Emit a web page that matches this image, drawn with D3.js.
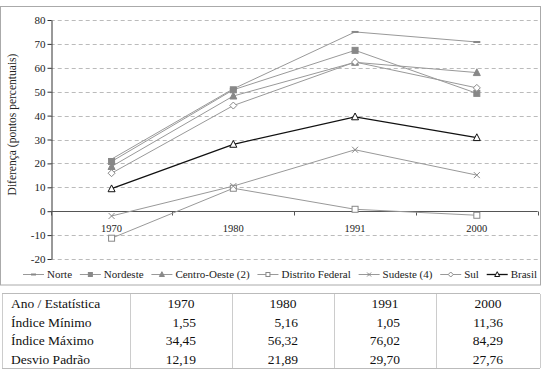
<!DOCTYPE html>
<html><head><meta charset="utf-8">
<script src="https://cdn.jsdelivr.net/npm/d3@7"></script>
<style>body{margin:0;background:#fff}svg{display:block}</style>
</head><body><div id="chart"></div>
<script>
const years = ["1970","1980","1991","2000"];
const norte = [21.8, 51.2, 75.0, 70.8];
const nordeste = [20.8, 50.8, 67.3, 49.3];
const centroOeste = [18.7, 48.2, 62.3, 58.0];
const distritoFederal = [-11.3, 9.6, 0.8, -1.7];
const sudeste = [-2.0, 10.5, 25.7, 15.1];
const sul = [15.9, 44.2, 62.4, 51.6];
const brasil = [9.4, 28.0, 39.5, 30.8];
const yTicks = [-20,-10,0,10,20,30,40,50,60,70,80];
const tableHeader = ["Ano / Estatística","1970","1980","1991","2000"];
const tableRowLabels = ["Índice Mínimo","Índice Máximo","Desvio Padrão"];
const indiceMinimo = ["1,55","5,16","1,05","11,36"];
const indiceMaximo = ["34,45","56,32","76,02","84,29"];
const desvioPadrao = ["12,19","21,89","29,70","27,76"];

const series = [
  {name:"Norte", values:norte, marker:"dash", color:"#999", mfill:"#888"},
  {name:"Nordeste", values:nordeste, marker:"square", color:"#999", mfill:"#888"},
  {name:"Centro-Oeste (2)", values:centroOeste, marker:"triangle", color:"#999", mfill:"#888"},
  {name:"Distrito Federal", values:distritoFederal, marker:"square-o", color:"#999", mfill:"#fff"},
  {name:"Sudeste (4)", values:sudeste, marker:"x", color:"#999", mfill:"none"},
  {name:"Sul", values:sul, marker:"diamond-o", color:"#999", mfill:"#fff"},
  {name:"Brasil", values:brasil, marker:"triangle-o", color:"#111", mfill:"#fff"}
];

(function(){
const FONT = "'Liberation Serif', 'Times New Roman', Tinos, serif";
const W=544, H=373;
const svg = d3.select("#chart").append("svg").attr("width",W).attr("height",H).attr("font-family",FONT);
const pLeft=50.7, pRight=537.7, pTop=20, pBottom=259;
const x = d3.scaleBand().domain(years).range([pLeft,pRight]);
const y = d3.scaleLinear().domain([-20,80]).range([pBottom,pTop]);

svg.append("rect").attr("x",0.5).attr("y",6.5).attr("width",540).attr("height",278.5)
  .attr("fill","none").attr("stroke","#aaa");

svg.append("g").selectAll("line").data(yTicks.filter(d=>d!==0)).join("line")
  .attr("x1",pLeft).attr("x2",pRight).attr("y1",d=>Math.round(y(d))+0.5).attr("y2",d=>Math.round(y(d))+0.5)
  .attr("stroke","#bbb").attr("stroke-dasharray","4,3");

const ya = svg.append("g").attr("transform",`translate(${Math.round(pLeft)+0.5},0)`)
  .call(d3.axisLeft(y).tickValues(yTicks).tickSize(4).tickSizeOuter(0).tickFormat(d=>String(d)));
ya.attr("font-family",FONT);
ya.select(".domain").attr("stroke","#333");
ya.selectAll(".tick line").attr("stroke","#333");
ya.selectAll(".tick text").attr("font-size","11px").attr("fill","#222").attr("x",-6).attr("font-family",FONT);

const zy = Math.round(y(0))+0.5;
svg.append("line").attr("x1",pLeft).attr("x2",pRight).attr("y1",zy).attr("y2",zy).attr("stroke","#555").attr("stroke-width",1.2);
const bounds = years.map(d=>x(d)).concat([pRight]);
svg.append("g").selectAll("line").data(bounds).join("line")
  .attr("x1",d=>Math.round(d)+0.5).attr("x2",d=>Math.round(d)+0.5).attr("y1",zy).attr("y2",zy+4).attr("stroke","#555");
svg.append("g").selectAll("text").data(years).join("text")
  .attr("x",d=>x(d)+x.bandwidth()/2).attr("y",zy+20).attr("text-anchor","middle").attr("font-family",FONT)
  .attr("font-size","10.5px").attr("fill","#222").text(d=>d);

svg.append("text").attr("transform",`translate(16,${(pTop+pBottom)/2-15}) rotate(-90)`)
  .attr("text-anchor","middle").attr("font-size","11.5px").attr("fill","#222").attr("font-family",FONT)
  .text("Diferença (pontos percentuais)");

function drawMarker(g, s, cx, cy, size){
  const r=size;
  if(s.marker==="dash"){
    g.append("line").attr("x1",cx-r-0.5).attr("x2",cx+r+0.5).attr("y1",cy).attr("y2",cy).attr("stroke",s.mfill).attr("stroke-width",2);
  } else if(s.marker==="square"){
    g.append("rect").attr("x",cx-r).attr("y",cy-r).attr("width",2*r).attr("height",2*r).attr("fill",s.mfill).attr("stroke",s.mfill);
  } else if(s.marker==="square-o"){
    g.append("rect").attr("x",cx-r).attr("y",cy-r).attr("width",2*r).attr("height",2*r).attr("fill","#fff").attr("stroke","#888");
  } else if(s.marker==="triangle"){
    g.append("path").attr("d",`M${cx},${cy-r-0.8}L${cx+r+0.5},${cy+r}L${cx-r-0.5},${cy+r}Z`).attr("fill",s.mfill).attr("stroke",s.mfill);
  } else if(s.marker==="triangle-o"){
    g.append("path").attr("d",`M${cx},${cy-r-0.8}L${cx+r+0.5},${cy+r}L${cx-r-0.5},${cy+r}Z`).attr("fill","#fff").attr("stroke","#111");
  } else if(s.marker==="diamond-o"){
    g.append("path").attr("d",`M${cx},${cy-r-0.5}L${cx+r+0.5},${cy}L${cx},${cy+r+0.5}L${cx-r-0.5},${cy}Z`).attr("fill","#fff").attr("stroke","#888");
  } else if(s.marker==="x"){
    g.append("path").attr("d",`M${cx-r},${cy-r}L${cx+r},${cy+r}M${cx-r},${cy+r}L${cx+r},${cy-r}`).attr("stroke","#888").attr("fill","none");
  }
}

const line = d3.line().x((d,i)=>x(years[i])+x.bandwidth()/2).y(d=>y(d));
const plot = svg.append("g");
series.forEach(s=>{
  plot.append("path").attr("d",line(s.values)).attr("fill","none").attr("stroke",s.color).attr("stroke-width",s.name==="Brasil"?1.3:1);
});
series.forEach(s=>{
  s.values.forEach((v,i)=>drawMarker(plot, s, x(years[i])+x.bandwidth()/2, y(v), 3));
});

// legend: measure, then spread from 23 to 537
const lg = svg.append("g");
const ly = 278, lStart = 23, lEnd = 537, symW = 21, symGap = 3;
const texts = series.map(s=>lg.append("text").attr("y",ly).attr("font-size","11px").attr("fill","#222").attr("font-family",FONT).text(s.name));
const widths = texts.map(t=>t.node().getComputedTextLength());
const total = d3.sum(widths) + series.length*(symW+symGap);
const gap = (lEnd - lStart - total)/(series.length-1);
let lx = lStart;
series.forEach((s,i)=>{
  lg.append("line").attr("x1",lx).attr("x2",lx+symW).attr("y1",ly-3.5).attr("y2",ly-3.5).attr("stroke",s.color).attr("stroke-width",s.name==="Brasil"?1.3:1);
  drawMarker(lg, s, lx+symW/2, ly-3.5, 2);
  texts[i].attr("x",lx+symW+symGap);
  lx += symW+symGap+widths[i]+gap;
});

const tg = svg.append("g");
const colX = [2,130,232,334,436,540];
const rowY0 = 294, rowH = 18.5;
tg.append("line").attr("x1",2).attr("x2",540).attr("y1",rowY0-0.5).attr("y2",rowY0-0.5).attr("stroke","#bbb");
tg.append("line").attr("x1",2).attr("x2",540).attr("y1",rowY0+4*rowH+0.5).attr("y2",rowY0+4*rowH+0.5).attr("stroke","#bbb");
colX.forEach(cx=>tg.append("line").attr("x1",cx+0.5).attr("x2",cx+0.5).attr("y1",rowY0).attr("y2",rowY0+4*rowH).attr("stroke","#ccc"));
const rows = [tableHeader, [tableRowLabels[0]].concat(indiceMinimo), [tableRowLabels[1]].concat(indiceMaximo), [tableRowLabels[2]].concat(desvioPadrao)];
rows.forEach((r,ri)=>{
  const ty = rowY0 + ri*rowH + 14;
  r.forEach((c,ci)=>{
    const t = tg.append("text").attr("y",ty).attr("font-size","13.5px").attr("fill","#111").attr("font-family",FONT).text(c);
    if(ci===0) t.attr("x",11);
    else if(ri===0) t.attr("x",(colX[ci]+colX[ci+1])/2).attr("text-anchor","middle");
    else t.attr("x",(colX[ci]+colX[ci+1])/2+15).attr("text-anchor","end");
  });
});
})();
</script></body></html>
